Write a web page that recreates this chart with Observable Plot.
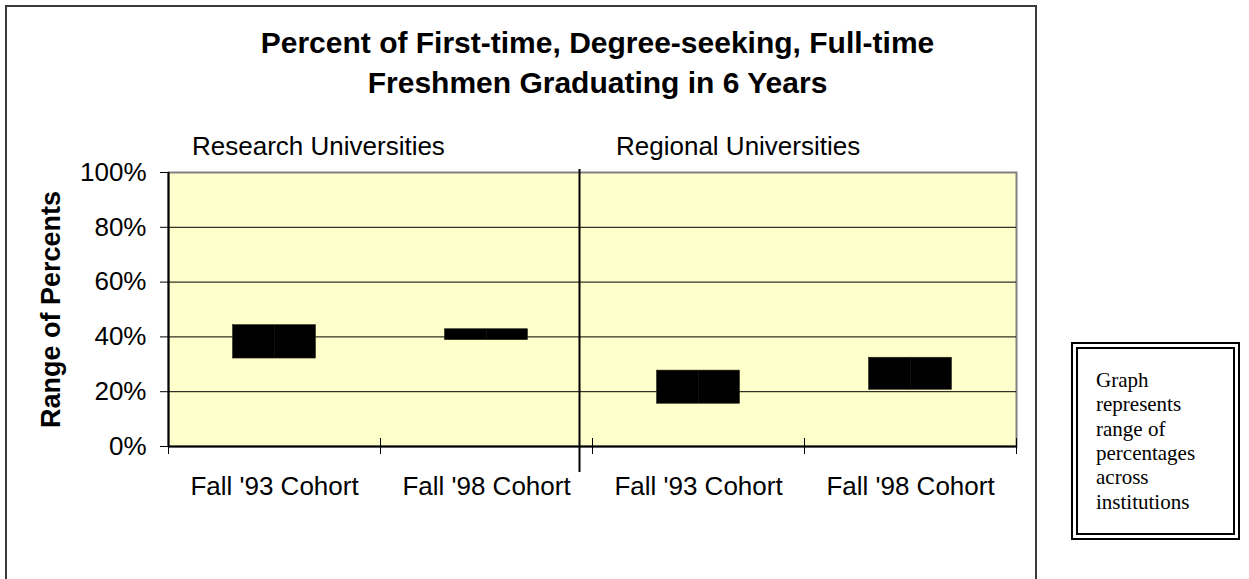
<!DOCTYPE html>
<html>
<head>
<meta charset="utf-8">
<script src="https://cdn.jsdelivr.net/npm/d3@7"></script>
<script src="https://cdn.jsdelivr.net/npm/@observablehq/plot@0.6"></script>
<style>
  html, body { margin: 0; padding: 0; background: white; overflow: hidden; }
  #wrap { position: relative; width: 1249px; height: 579px; overflow: hidden; }
  #chart { position: absolute; left: 0; top: 0; }
  #frame { position: absolute; left: 5px; top: 5px; width: 1032px; height: 700px; box-sizing: border-box;
           border: 2px solid #3a3a3a; pointer-events: none; }
  #note { position: absolute; left: 1071px; top: 342px; width: 169px; height: 198px; box-sizing: border-box;
          border: 7px double #000; background: white; padding: 18.7px 0 0 18px;
          font-family: "Liberation Serif", "Times New Roman", serif; font-size: 21px; line-height: 24.4px; color: #000; }
</style>
</head>
<body>
<div id="wrap">
  <div id="chart"></div>
  <div id="frame"></div>
  <div id="note"></div>
</div>
<script>
// ---- data ----
const title = "Percent of First-time, Degree-seeking, Full-time\nFreshmen Graduating in 6 Years";
const yTitle = "Range of Percents";
const groups = ["Research Universities", "Regional Universities"];
const cohorts = ["Fall '93 Cohort", "Fall '98 Cohort", "Fall '93 Cohort", "Fall '98 Cohort"];
const low  = [0.321, 0.388, 0.156, 0.207];
const high = [0.443, 0.428, 0.277, 0.324];
const yTicks = [0, 0.2, 0.4, 0.6, 0.8, 1.0];
const yGrid = [0.2, 0.4, 0.6, 0.8];
const xBoundaries = [0, 1, 2, 3, 4];
const noteLines = ["Graph", "represents", "range of", "percentages", "across", "institutions"];

const idx = cohorts.map((_, i) => i);

const chart = Plot.plot({
  width: 1249,
  height: 579,
  marginLeft: 168,
  marginRight: 233,
  marginTop: 172,
  marginBottom: 133,
  style: {
    fontFamily: "'Liberation Sans', Arial, Helvetica, sans-serif",
    fontSize: "26px",
    color: "black",
    background: "white",
    overflow: "visible"
  },
  x: { domain: [0, 4], axis: null },
  y: { domain: [0, 1] },
  marks: [
    Plot.frame({ fill: "#FFFFCC", stroke: "#808080", strokeWidth: 2 }),
    Plot.ruleY(yGrid, { stroke: "black", strokeWidth: 1 }),
    Plot.rectY(idx, {
      x1: i => i, x2: i => i + 1,
      y1: i => low[i], y2: i => high[i],
      insetLeft: 64.5, insetRight: 64.5,
      fill: "black", stroke: "#2a2a1a", strokeWidth: 0.6
    }),
    Plot.ruleX(idx, { x: i => i + 0.5, y1: i => low[i], y2: i => high[i], stroke: "#1e1e16", strokeWidth: 0.6 }),
    Plot.ruleY([0], { stroke: "black", strokeWidth: 2 }),
    Plot.ruleX([0], { stroke: "black", strokeWidth: 2 }),
    Plot.ruleX(xBoundaries, { x: d => d, y1: 0, y2: 0, insetTop: -8, insetBottom: -8, stroke: "black", strokeWidth: 1 }),
    Plot.ruleX([2], { dx: -13, insetTop: -3, insetBottom: -26, stroke: "black", strokeWidth: 2 }),
    Plot.axisY({
      ticks: yTicks,
      tickFormat: d3.format(".0%"),
      tickSize: 8,
      tickPadding: 14,
      fontSize: 26,
      label: null,
      stroke: "black"
    }),
    Plot.text(idx, {
      x: i => i + 0.5, text: i => cohorts[i],
      frameAnchor: "bottom", lineAnchor: "bottom", dy: 48, fontSize: 26, fill: "black"
    }),
    Plot.text(groups, {
      x: (d, i) => i * 2, text: d => d,
      frameAnchor: "top", lineAnchor: "bottom", textAnchor: "start",
      dx: 23.5, dy: -17.7, fontSize: 26, fill: "black"
    }),
    Plot.text([title], {
      text: d => d,
      frameAnchor: "top", lineAnchor: "bottom", dx: 5, dy: -79.3,
      fontSize: 30, fontWeight: "bold", lineHeight: 1.333, fill: "black"
    }),
    Plot.text([yTitle], {
      text: d => d,
      frameAnchor: "left", textAnchor: "middle", rotate: -90, lineAnchor: "bottom", dx: -108.7,
      fontSize: 27, fontWeight: "bold", fill: "black"
    })
  ]
});
document.getElementById("chart").appendChild(chart);
document.getElementById("note").innerHTML = noteLines.join("<br>");
</script>
</body>
</html>
